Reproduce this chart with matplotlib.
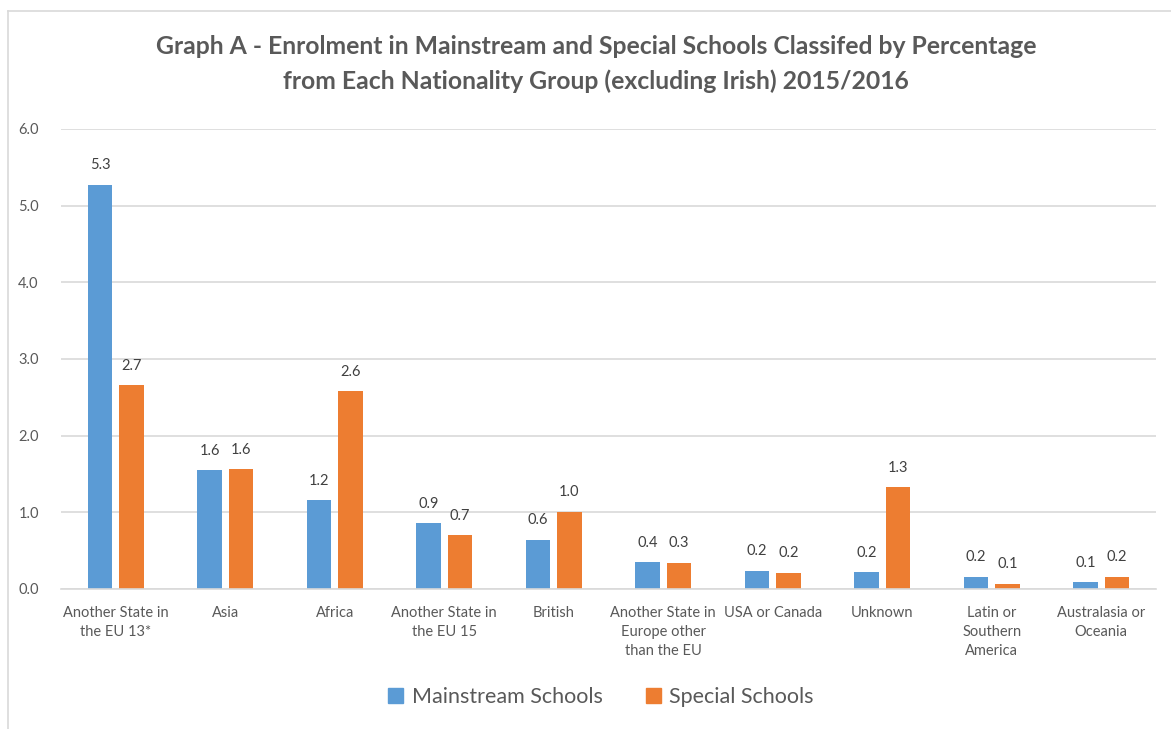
import matplotlib
matplotlib.use("Agg")
import matplotlib.pyplot as plt
import numpy as np
from matplotlib.lines import Line2D
from matplotlib.patches import Patch

# Chart data
categories = ["Another State in\nthe EU 13*", "Asia", "Africa", "Another State in\nthe EU 15",
              "British", "Another State in\nEurope other\nthan the EU", "USA or Canada",
              "Unknown", "Latin or\nSouthern\nAmerica", "Australasia or\nOceania"]
mainstream = [5.27, 1.55, 1.16, 0.86, 0.64, 0.35, 0.24, 0.22, 0.16, 0.09]
special = [2.66, 1.56, 2.58, 0.70, 1.01, 0.34, 0.21, 1.33, 0.07, 0.16]
mainstream_labels = ["5.3", "1.6", "1.2", "0.9", "0.6", "0.4", "0.2", "0.2", "0.2", "0.1"]
special_labels = ["2.7", "1.6", "2.6", "0.7", "1.0", "0.3", "0.2", "1.3", "0.1", "0.2"]
yticks = [0.0, 1.0, 2.0, 3.0, 4.0, 5.0, 6.0]

blue = "#5B9BD5"
orange = "#ED7D31"
text_col = "#595959"
grid_col = "#D9D9D9"

plt.rcParams['font.family'] = ['Lato', 'DejaVu Sans']

W, H = 1171, 729
fig = plt.figure(figsize=(W / 100, H / 100), dpi=100)

# outer chart frame (left and top edges visible)
fig.add_artist(Line2D([8 / W, 8 / W], [0, 1 - 11 / H], color=grid_col, lw=1.2))
fig.add_artist(Line2D([8 / W, 1], [1 - 11 / H, 1 - 11 / H], color=grid_col, lw=1.2))

ax = fig.add_axes([61 / W, (H - 589) / H, 1095 / W, 460 / H])

x = np.arange(len(categories))
bw = 0.225
off = 0.143
b1 = ax.bar(x - off, mainstream, bw, color=blue, zorder=3)
b2 = ax.bar(x + off, special, bw, color=orange, zorder=3)

for bars, labs in [(b1, mainstream_labels), (b2, special_labels)]:
    for b, lab in zip(bars, labs):
        ax.annotate(lab, (b.get_x() + b.get_width() / 2, b.get_height()),
                    xytext=(0, 9), textcoords="offset points",
                    ha="center", va="bottom", fontsize=10.5, color="#404040")

ax.set_xlim(-0.5, len(categories) - 0.5)
ax.set_ylim(0, 6)
ax.set_yticks(yticks)
ax.set_yticklabels(["%.1f" % v for v in yticks])
ax.set_xticks(x)
ax.set_xticklabels(categories, fontsize=10.5, color=text_col, linespacing=1.45, va="top")
ax.tick_params(axis="x", length=0, pad=12)
ax.tick_params(axis="y", length=0, pad=16, labelsize=10.5, labelcolor=text_col)
ax.yaxis.grid(True, color=grid_col, lw=1.2, zorder=0)
for s in ["top", "right", "left"]:
    ax.spines[s].set_visible(False)
ax.spines["bottom"].set_color(grid_col)
ax.spines["bottom"].set_linewidth(1.2)
ax.spines["bottom"].set_zorder(4)

fig.text(596 / W, 1 - 64 / H,
         "Graph A - Enrolment in Mainstream and Special Schools Classifed by Percentage\n"
         "from Each Nationality Group (excluding Irish) 2015/2016",
         ha="center", va="center", fontsize=17.8, fontweight="bold", color=text_col,
         linespacing=1.6)

handles = [Patch(color=blue), Patch(color=orange)]
fig.legend(handles, ["Mainstream Schools", "Special Schools"], loc="center",
           bbox_to_anchor=(601 / W, 1 - 697 / H), ncol=2, frameon=False,
           fontsize=15.5, labelcolor=text_col, handlelength=0.7, handleheight=0.7,
           handletextpad=0.4, columnspacing=2.0)

fig.savefig("out.png", dpi=100)
